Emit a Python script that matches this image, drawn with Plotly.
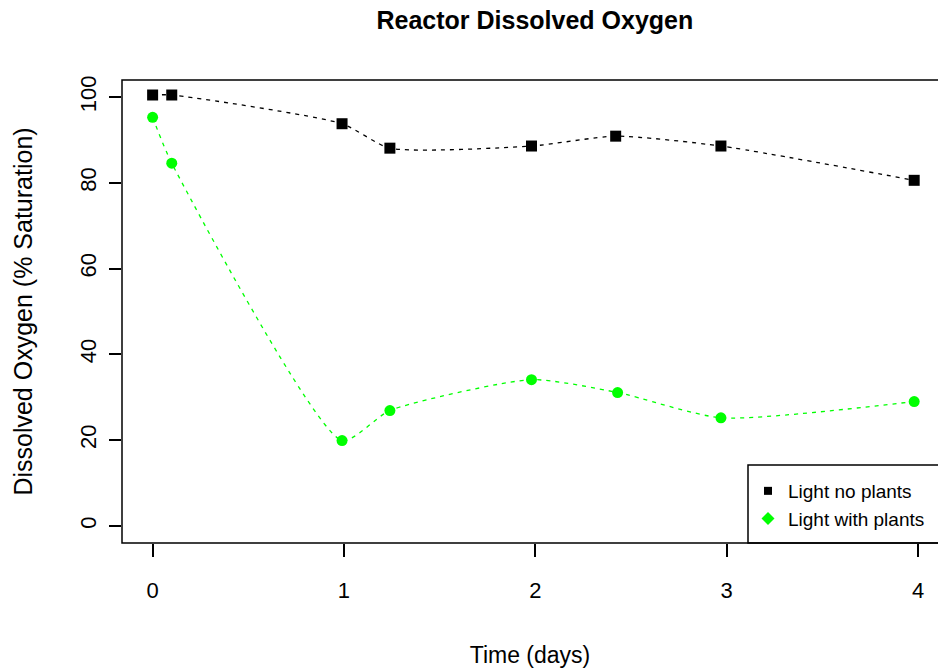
import plotly.graph_objects as go

# Data
time_no_plants = [0.0, 0.1, 0.99, 1.24, 1.98, 2.42, 2.97, 3.98]
do_no_plants = [100.5, 100.5, 93.8, 88.1, 88.6, 90.9, 88.6, 80.6]

time_with_plants = [0.0, 0.1, 0.99, 1.24, 1.98, 2.43, 2.97, 3.98]
do_with_plants = [95.3, 84.6, 19.9, 26.9, 34.1, 31.1, 25.2, 29.0]

x_ticks = [0, 1, 2, 3, 4]
y_ticks = [0, 20, 40, 60, 80, 100]

series_names = ["Light no plants", "Light with plants"]
GREEN = "#00FF00"
FONT = "Liberation Sans, Arial, sans-serif"

fig = go.Figure()

# dashed smoothed lines
fig.add_trace(go.Scatter(x=time_no_plants, y=do_no_plants, mode="lines",
                         line=dict(color="black", width=1.3, dash="4px,5px", shape="spline", smoothing=0.6),
                         showlegend=False, hoverinfo="skip"))
fig.add_trace(go.Scatter(x=time_with_plants, y=do_with_plants, mode="lines",
                         line=dict(color=GREEN, width=1.3, dash="4px,5px", shape="spline", smoothing=0.6),
                         showlegend=False, hoverinfo="skip"))
# markers
fig.add_trace(go.Scatter(x=time_no_plants, y=do_no_plants, mode="markers",
                         marker=dict(symbol="square", size=11, color="black"),
                         name=series_names[0], showlegend=False))
fig.add_trace(go.Scatter(x=time_with_plants, y=do_with_plants, mode="markers",
                         marker=dict(symbol="circle", size=11, color=GREEN),
                         name=series_names[1], showlegend=False))
# legend entries
fig.add_trace(go.Scatter(x=[None], y=[None], mode="markers",
                         marker=dict(symbol="square", size=8, color="black"),
                         name=series_names[0]))
fig.add_trace(go.Scatter(x=[None], y=[None], mode="markers",
                         marker=dict(symbol="diamond", size=10, color=GREEN),
                         name=series_names[1]))

# plot box (right edge falls outside the page)
fig.add_shape(type="rect", xref="paper", yref="paper", x0=0, x1=1.05, y0=0, y1=1,
              line=dict(color="black", width=1.5), fillcolor="rgba(0,0,0,0)", layer="above")
# legend box
fig.add_shape(type="rect", xref="paper", yref="paper", x0=(748 - 122) / 816, x1=1.05,
              y0=0, y1=(543 - 465) / 463,
              line=dict(color="black", width=1.5), fillcolor="white", layer="below")

fig.update_layout(
    width=938, height=669,
    margin=dict(l=122, r=0, t=80, b=126, autoexpand=False),
    paper_bgcolor="white", plot_bgcolor="white",
    font=dict(family=FONT, color="black"),
    title=dict(text="<b>Reactor Dissolved Oxygen</b>", xref="paper", x=0.506, xanchor="center",
               yref="container", y=1 - 20 / 669, yanchor="middle",
               font=dict(family=FONT, size=25, color="black")),
    xaxis=dict(range=[-0.16, 4 + 20 / 191.5], tickvals=x_ticks, ticktext=[str(v) for v in x_ticks],
               showgrid=False, zeroline=False, showline=False,
               ticks="outside", ticklen=13, tickwidth=1.5, tickcolor="black",
               tickfont=dict(size=22), ticklabelstandoff=15,
               title=dict(text="Time (days)", font=dict(size=23), standoff=44)),
    yaxis=dict(range=[-4, 104], tickvals=y_ticks, ticktext=[str(v) for v in y_ticks],
               showgrid=False, zeroline=False, showline=False,
               ticks="outside", ticklen=12, tickwidth=1.5, tickcolor="black",
               tickangle=-90, tickfont=dict(size=22), ticklabelstandoff=4,
               title=dict(text="Dissolved Oxygen (% Saturation)", font=dict(size=25), standoff=36)),
    legend=dict(x=(748 - 122) / 816, xanchor="left", y=(543 - 472) / 463, yanchor="top",
                bgcolor="rgba(0,0,0,0)", borderwidth=0, font=dict(size=19),
                tracegroupgap=0, itemwidth=30),
)

fig.write_html("out.html")
